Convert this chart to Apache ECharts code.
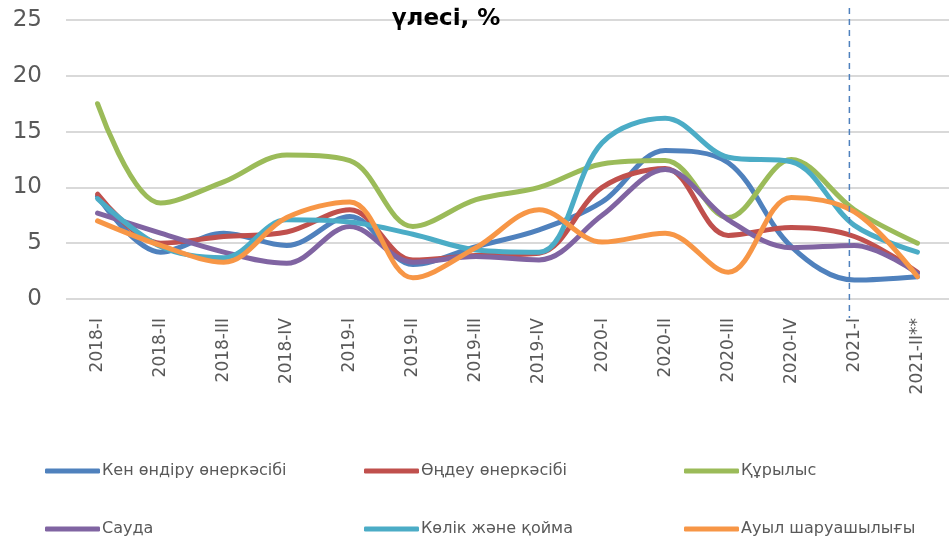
<!DOCTYPE html>
<html>
<head>
<meta charset="utf-8">
<script src="https://cdn.jsdelivr.net/npm/echarts@6/dist/echarts.min.js"></script>
<style>
  html, body { margin: 0; padding: 0; background: #fff; }
  #chart { width: 949px; height: 542px; }
</style>
</head>
<body>
<div id="chart"></div>
<script>
// quarters on the category axis
const quarters = ['2018-I', '2018-II', '2018-III', '2018-IV', '2019-I', '2019-II', '2019-III',
  '2019-IV', '2020-I', '2020-II', '2020-III', '2020-IV', '2021-I', '2021-II**'];

// shares by sector, %
const mining = [9.2, 4.2, 5.9, 4.8, 7.4, 3.1, 4.7, 6.2, 8.7, 13.3, 12.2, 4.7, 1.7, 2.0];
const manufacturing = [9.4, 5.0, 5.6, 6.0, 8.0, 3.5, 3.9, 4.1, 10.0, 11.7, 5.7, 6.4, 5.6, 2.4];
const construction = [17.5, 8.6, 10.5, 12.9, 12.4, 6.5, 8.9, 10.0, 12.1, 12.4, 7.3, 12.5, 8.0, 5.0];
const trade = [7.7, 5.9, 4.2, 3.2, 6.5, 3.3, 3.8, 3.5, 7.5, 11.6, 7.1, 4.6, 4.8, 2.3];
const transport = [9.0, 4.7, 3.7, 7.1, 6.9, 5.8, 4.4, 4.2, 14.0, 16.2, 12.7, 12.3, 6.6, 4.2];
const agriculture = [7.0, 4.8, 3.3, 7.3, 8.7, 1.9, 4.6, 8.0, 5.1, 5.9, 2.4, 9.1, 7.8, 2.0];

const seriesNames = ['Кен өндіру өнеркәсібі', 'Өңдеу өнеркәсібі', 'Құрылыс',
  'Сауда', 'Көлік және қойма', 'Ауыл шаруашылығы'];
const seriesData = [mining, manufacturing, construction, trade, transport, agriculture];
const colors = ['#4F81BD', '#C0504D', '#9BBB59', '#8064A2', '#4BACC6', '#F79646'];

const font = 'DejaVu Sans';
const grey = '#595959';

// legend slots: 3 columns x 2 rows, like the original
const legendCols = [45, 364, 684];
const legendRows = [463, 521];

const chart = echarts.init(document.getElementById('chart'));

const legends = seriesNames.map((name, i) => ({
  left: legendCols[i % 3],
  top: legendRows[Math.floor(i / 3)],
  padding: 0,
  data: [name],
  itemWidth: 55,
  itemHeight: 5,
  icon: 'roundRect',
  textStyle: { fontFamily: font, fontSize: 16, color: grey, padding: [0, 0, 0, -3] }
}));

const options = {
  animation: false,
  color: colors,
  title: {
    text: 'үлесі, %',
    left: 441,
    textAlign: 'center',
    top: 3,
    textStyle: { fontFamily: font, fontSize: 23, fontWeight: 'bold', color: '#000' }
  },
  legend: legends,
  grid: { left: 66, top: 20, width: 894, height: 279 },
  xAxis: {
    type: 'category',
    data: quarters,
    axisLine: { show: false },
    axisTick: { show: false },
    axisLabel: {
      interval: 0,
      rotate: 90,
      margin: 19,
      fontFamily: font,
      fontSize: 17,
      color: grey
    }
  },
  yAxis: {
    type: 'value',
    min: 0,
    max: 25,
    interval: 5,
    axisLine: { show: false },
    axisTick: { show: false },
    axisLabel: { fontFamily: font, fontSize: 23, color: grey, margin: 24 },
    splitLine: { lineStyle: { color: '#d9d9d9', width: 2 } }
  },
  series: seriesNames.map((name, i) => ({
    name: name,
    type: 'line',
    data: seriesData[i],
    smooth: 0.35,
    showSymbol: false,
    symbol: 'none',
    lineStyle: { width: 5, cap: 'round', join: 'round', color: colors[i] },
    itemStyle: { color: colors[i] }
  }))
};

chart.setOption(options);

// dashed marker at the last full quarter, drawn a bit past the plot like the original
const mx = chart.convertToPixel({ xAxisIndex: 0 }, '2021-I');
chart.setOption({
  graphic: [{
    type: 'line',
    shape: { x1: mx - 5, y1: 8, x2: mx - 5, y2: 318 },
    style: { stroke: '#4F81BD', lineWidth: 1.5, lineDash: [6, 5] },
    z: 10
  }]
});
</script>
</body>
</html>
